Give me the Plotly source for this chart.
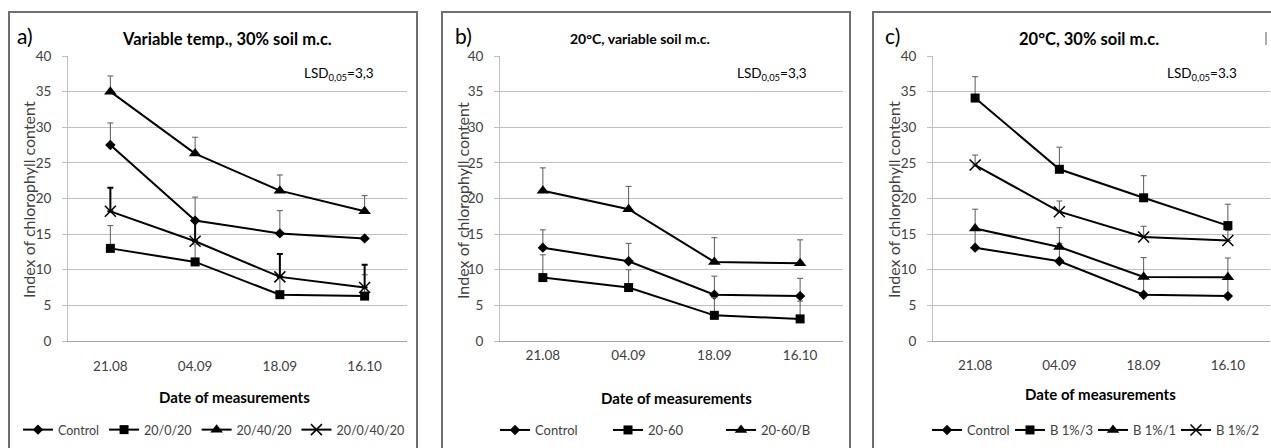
import plotly.graph_objects as go

W, H = 1271, 448

dates = ["21.08", "04.09", "18.09", "16.10"]

# Panel a) Variable temp., 30% soil m.c.
a_names = ["Control", "20/0/20", "20/40/20", "20/0/40/20"]
a_control = [27.5, 16.9, 15.1, 14.4]
a_control_err = [3.1, 3.3, 3.2, 0.0]
a_sq = [13.0, 11.1, 6.5, 6.3]
a_sq_err = [3.2, 2.5, 2.6, 3.0]
a_tri = [35.0, 26.3, 21.1, 18.2]
a_tri_err = [2.2, 2.3, 2.2, 2.2]
a_x = [18.2, 14.0, 9.0, 7.5]
a_x_err = [3.3, 3.0, 3.2, 3.2]

# Panel b) 20°C, variable soil m.c.
b_names = ["Control", "20-60", "20-60/B"]
b_control = [13.1, 11.2, 6.5, 6.3]
b_control_err = [2.5, 2.5, 2.6, 2.5]
b_sq = [8.9, 7.5, 3.6, 3.1]
b_sq_err = [3.2, 2.5, 2.5, 2.5]
b_tri = [21.1, 18.5, 11.1, 10.9]
b_tri_err = [3.2, 3.2, 3.4, 3.3]

# Panel c) 20°C, 30% soil m.c.
c_names = ["Control", "B 1%/3", "B 1%/1", "B 1%/2"]
c_control = [13.1, 11.2, 6.5, 6.3]
c_control_err = [2.5, 2.5, 2.6, 2.5]
c_sq = [34.1, 24.1, 20.1, 16.2]
c_sq_err = [3.0, 3.1, 3.1, 3.0]
c_tri = [15.8, 13.2, 9.0, 8.95]
c_tri_err = [2.7, 2.7, 2.7, 2.7]
c_x = [24.7, 18.15, 14.6, 14.1]
c_x_err = [1.4, 1.5, 1.5, 1.4]

titles = ["Variable temp., 30% soil m.c.", "20°C, variable soil m.c.", "20°C, 30% soil m.c."]
letters = ["a)", "b)", "c)"]
lsd = ["LSD<sub>0,05</sub>=3,3", "LSD<sub>0,05</sub>=3,3", "LSD<sub>0,05</sub>=3.3"]

FONT = "Lato"
TXT = "#404040"

def px(x):
    return x / W

def py(y):
    return 1 - y / H

MARK = {
    "diamond": dict(symbol="diamond", size=8, color="black"),
    "square": dict(symbol="square", size=9, color="black"),
    "triangle": dict(symbol="triangle-up", size=11, color="black"),
    "x": dict(symbol="x-thin-open", size=11, color="black", line=dict(width=1.5, color="black")),
}

fig = go.Figure()

def add(name, y, err, mk, xa, ya, leg, ecolor="#595959", ethick=1):
    fig.add_trace(go.Scatter(
        x=dates, y=y, name=name, mode="lines+markers",
        line=dict(color="black", width=2),
        marker=MARK[mk],
        error_y=dict(type="data", symmetric=False, array=err,
                     arrayminus=[0] * len(err), color=ecolor,
                     thickness=ethick, width=3),
        xaxis=xa, yaxis=ya, legend=leg,
    ))

add(a_names[0], a_control, a_control_err, "diamond", "x", "y", "legend")
add(a_names[1], a_sq, a_sq_err, "square", "x", "y", "legend")
add(a_names[2], a_tri, a_tri_err, "triangle", "x", "y", "legend")
add(a_names[3], a_x, a_x_err, "x", "x", "y", "legend", ecolor="black", ethick=2)

add(b_names[0], b_control, b_control_err, "diamond", "x2", "y2", "legend2")
add(b_names[1], b_sq, b_sq_err, "square", "x2", "y2", "legend2")
add(b_names[2], b_tri, b_tri_err, "triangle", "x2", "y2", "legend2")

add(c_names[0], c_control, c_control_err, "diamond", "x3", "y3", "legend3")
add(c_names[1], c_sq, c_sq_err, "square", "x3", "y3", "legend3")
add(c_names[2], c_tri, c_tri_err, "triangle", "x3", "y3", "legend3")
add(c_names[3], c_x, c_x_err, "x", "x3", "y3", "legend3")

# plot-area pixel geometry per panel: (left, right)
plots = [(68, 407), (500, 843), (933, 1270)]
ydom = [py(341), py(56)]
xstand = [13, 2, 12]

for i, (l, r) in enumerate(plots):
    sfx = "" if i == 0 else str(i + 1)
    fig.layout["xaxis" + sfx] = dict(
        domain=[px(l), px(r)], anchor="y" + sfx, type="category",
        range=[-0.5, 3.5], showgrid=False, showline=True,
        linecolor="#a6a6a6", linewidth=1, ticks="", zeroline=False,
        tickfont=dict(family=FONT, size=13.5, color=TXT),
        ticklabelstandoff=xstand[i],
    )
    fig.layout["yaxis" + sfx] = dict(
        domain=ydom, anchor="x" + sfx, range=[0, 40], dtick=5,
        showgrid=True, gridcolor="#bfbfbf", gridwidth=1,
        showline=True, linecolor="#bfbfbf", linewidth=1,
        ticks="outside", ticklen=5, tickcolor="#bfbfbf",
        zeroline=False, ticklabelstandoff=8,
        tickfont=dict(family=FONT, size=13.5, color=TXT),
    )

# panel borders
borders = [(9, 417), (442, 850), (873, 1280)]
for l, r in borders:
    fig.add_shape(type="rect", xref="paper", yref="paper",
                  x0=px(l), x1=px(r), y0=py(460), y1=py(12),
                  line=dict(color="#6f6f6f", width=2), fillcolor="rgba(0,0,0,0)",
                  layer="above")

# gaps in top gridline (artefacts in original)
for x0, x1 in [(378, 402), (1242, 1265)]:
    fig.add_shape(type="rect", xref="paper", yref="paper",
                  x0=px(x0), x1=px(x1), y0=py(58), y1=py(54),
                  line=dict(width=0), fillcolor="white", layer="above")
fig.add_shape(type="line", xref="paper", yref="paper",
              x0=px(1266), x1=px(1266), y0=py(45), y1=py(32),
              line=dict(color="#595959", width=1))

title_cx = [227, 640, 1089]
title_fs = [16.5, 14, 16.5]
letter_x = [15, 453, 883]
lsd_x = [302, 735, 1165]
xtitle = [(234, 397), (677, 398), (1100, 394)]
ytitle_x = [28, 462, 893]

ann = []
for i in range(3):
    ann.append(dict(text="<b>" + titles[i] + "</b>", x=px(title_cx[i]), y=py(39),
                    xref="paper", yref="paper", showarrow=False,
                    xanchor="center", yanchor="middle",
                    font=dict(family=FONT, size=title_fs[i], color="black")))
    ann.append(dict(text=letters[i], x=px(letter_x[i]), y=py(35),
                    xref="paper", yref="paper", showarrow=False,
                    xanchor="left", yanchor="middle",
                    font=dict(family=FONT, size=21, color="black")))
    ann.append(dict(text=lsd[i], x=px(lsd_x[i]), y=py(74),
                    xref="paper", yref="paper", showarrow=False,
                    xanchor="left", yanchor="middle",
                    font=dict(family=FONT, size=13.5, color="black")))
    ann.append(dict(text="<b>Date of measurements</b>", x=px(xtitle[i][0]), y=py(xtitle[i][1]),
                    xref="paper", yref="paper", showarrow=False,
                    xanchor="center", yanchor="middle",
                    font=dict(family=FONT, size=15, color="black")))
    ann.append(dict(text="Index of chlorophyll content", x=px(ytitle_x[i]), y=py(200),
                    xref="paper", yref="paper", showarrow=False, textangle=-90,
                    xanchor="center", yanchor="middle",
                    font=dict(family=FONT, size=16, color=TXT)))

legx = [18, 495, 927]
legfs = [12.5, 13, 13]
for i, key in enumerate(["legend", "legend2", "legend3"]):
    fig.layout[key] = dict(
        orientation="h", x=px(legx[i]), y=py(430), xanchor="left", yanchor="middle",
        xref="paper", yref="paper", bgcolor="rgba(0,0,0,0)",
        font=dict(family=FONT, size=legfs[i], color=TXT),
        itemwidth=30, tracegroupgap=0,
    )
fig.layout["legend2"]["entrywidth"] = 68
fig.layout["legend3"]["entrywidth"] = 38

fig.update_layout(
    width=W, height=H, margin=dict(l=0, r=0, t=0, b=0, autoexpand=False),
    paper_bgcolor="white", plot_bgcolor="white",
    annotations=ann, showlegend=True,
    font=dict(family=FONT),
)

fig.write_html(
    "out.html",
    config={"displayModeBar": False},
    post_script="document.body.style.margin='0';document.body.style.padding='0';"
                "document.body.style.overflow='hidden';",
)
